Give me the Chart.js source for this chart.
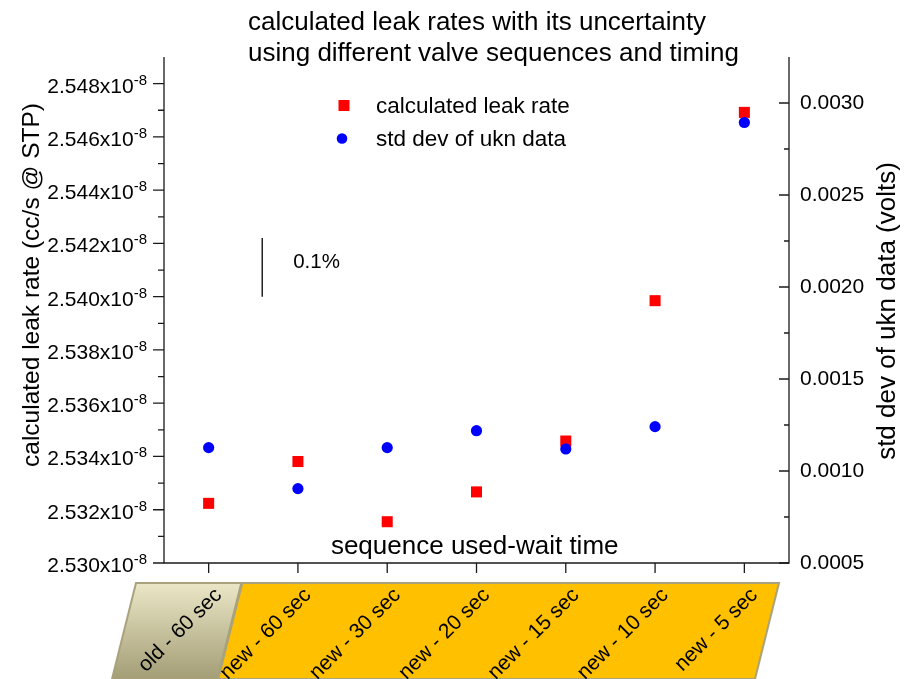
<!DOCTYPE html>
<html>
<head>
<meta charset="utf-8">
<script src="https://cdn.jsdelivr.net/npm/chart.js@4"></script>
<style>
  body { margin: 0; background: #fff; }
  canvas { display: block; }
</style>
</head>
<body>
<canvas id="myChart" width="906" height="679"></canvas>
<script>
// values
const categories = ["old - 60 sec", "new - 60 sec", "new - 30 sec", "new - 20 sec", "new - 15 sec", "new - 10 sec", "new - 5 sec"];
// calculated leak rate, in units of 1e-8 cc/s
const leakRate = [2.53224, 2.53381, 2.53155, 2.53267, 2.53458, 2.53985, 2.54692];
// std dev of ukn data, volts
const stdDev = [0.001127, 0.000904, 0.001127, 0.001219, 0.00112, 0.001241, 0.002894];
const leftTicks = [2.530, 2.532, 2.534, 2.536, 2.538, 2.540, 2.542, 2.544, 2.546, 2.548];
const rightTicks = [0.0005, 0.0010, 0.0015, 0.0020, 0.0025, 0.0030];
// the "0.1%" scale bar
const barX = 0.6;
const barY = [2.5400, 2.5422];

const FONT = "'Liberation Sans', Arial, sans-serif";
const ctx = document.getElementById("myChart");

const decor = {
  id: "decor",
  afterDraw(chart) {
    const c = chart.ctx;
    const a = chart.chartArea;
    const x = chart.scales.x, yl = chart.scales.yLeft, yr = chart.scales.yRight;
    c.save();

    // axis frame (no top line)
    c.strokeStyle = "#1a1a1a";
    c.lineWidth = 1.3;
    c.beginPath();
    c.moveTo(a.left, a.top);
    c.lineTo(a.left, a.bottom);
    c.lineTo(a.right, a.bottom);
    c.lineTo(a.right, a.top);
    c.stroke();

    // left ticks, outward
    c.beginPath();
    for (let i = 0; i < leftTicks.length; i++) {
      let py = yl.getPixelForValue(leftTicks[i]);
      c.moveTo(a.left, py); c.lineTo(a.left - 11, py);
      if (i < leftTicks.length - 1) {
        let my = yl.getPixelForValue((leftTicks[i] + leftTicks[i + 1]) / 2);
        c.moveTo(a.left, my); c.lineTo(a.left - 6, my);
      }
    }
    // right ticks, inward
    for (let i = 0; i < rightTicks.length; i++) {
      let py = yr.getPixelForValue(rightTicks[i]);
      c.moveTo(a.right, py); c.lineTo(a.right - 10, py);
      let my = yr.getPixelForValue(rightTicks[i] + 0.00025);
      if (my > a.top) { c.moveTo(a.right, my); c.lineTo(a.right - 5, my); }
    }
    // bottom ticks
    for (let i = 0; i < categories.length; i++) {
      let px = x.getPixelForValue(i);
      c.moveTo(px, a.bottom); c.lineTo(px, a.bottom + 10);
    }
    c.stroke();

    // left tick labels with superscript
    c.fillStyle = "#000";
    c.textBaseline = "alphabetic";
    for (const t of leftTicks) {
      let py = yl.getPixelForValue(t);
      c.font = "15px " + FONT;
      c.textAlign = "right";
      c.fillText("-8", a.left - 17, py + 1);
      let sw = c.measureText("-8").width;
      c.font = "21px " + FONT;
      c.fillText(t.toFixed(3) + "x10", a.left - 17 - sw, py + 9);
    }
    // right tick labels
    c.font = "21px " + FONT;
    c.textAlign = "left";
    c.textBaseline = "middle";
    for (const t of rightTicks) {
      c.fillText(t.toFixed(4), a.right + 11, yr.getPixelForValue(t));
    }

    // axis titles
    c.save();
    c.translate(32, 285);
    c.rotate(-Math.PI / 2);
    c.textAlign = "center";
    c.font = "24.5px " + FONT;
    c.fillText("calculated leak rate (cc/s @ STP)", 0, 0);
    c.restore();
    c.save();
    c.translate(888, 311);
    c.rotate(-Math.PI / 2);
    c.textAlign = "center";
    c.font = "26px " + FONT;
    c.fillText("std dev of ukn data (volts)", 0, 0);
    c.restore();

    // title
    c.textAlign = "left";
    c.textBaseline = "alphabetic";
    c.font = "26px " + FONT;
    c.fillText("calculated leak rates with its uncertainty", 248, 30);
    c.fillText("using different valve sequences and timing", 248, 61);

    // legend
    c.fillStyle = "#ff0000";
    c.fillRect(338.5, 100, 11, 11);
    c.fillStyle = "#0000ff";
    c.beginPath();
    c.arc(342, 138.5, 5.3, 0, Math.PI * 2);
    c.fill();
    c.fillStyle = "#000";
    c.font = "22.5px " + FONT;
    c.fillText("calculated leak rate", 376, 113);
    c.fillText("std dev of ukn data", 376, 146);

    // x title inside plot
    c.font = "26px " + FONT;
    c.textAlign = "center";
    c.fillText("sequence used-wait time", x.getPixelForValue(2.98), 554);

    // 0.1% label next to the bar
    c.font = "20.5px " + FONT;
    c.textAlign = "left";
    c.fillText("0.1%", x.getPixelForValue(barX) + 31, 268);

    // category boxes below the axis
    const top = a.bottom + 20, bot = chart.height, slant = 24;
    const l0 = x.getPixelForValue(-0.5) - 28;
    const m0 = x.getPixelForValue(0.5) - 12;
    const r0 = x.getPixelForValue(6.5) - 10;
    c.strokeStyle = "#a9a27c";
    c.lineWidth = 2;
    const grad = c.createLinearGradient(0, top, 0, bot);
    grad.addColorStop(0, "#ebe6c6");
    grad.addColorStop(1, "#a39e76");
    c.fillStyle = grad;
    c.beginPath();
    c.moveTo(l0, top); c.lineTo(m0, top); c.lineTo(m0 - slant, bot); c.lineTo(l0 - slant, bot); c.closePath();
    c.fill(); c.stroke();
    c.fillStyle = "#ffc000";
    c.beginPath();
    c.moveTo(m0 + 1, top); c.lineTo(r0, top); c.lineTo(r0 - slant, bot); c.lineTo(m0 + 1 - slant, bot); c.closePath();
    c.fill(); c.stroke();

    // rotated category labels
    c.fillStyle = "#000";
    c.font = "21px " + FONT;
    c.textAlign = "right";
    c.textBaseline = "middle";
    for (let i = 0; i < categories.length; i++) {
      c.save();
      c.translate(x.getPixelForValue(i) + 10, top + 9);
      c.rotate(-Math.PI / 4);
      c.fillText(categories[i], 0, 0);
      c.restore();
    }
    c.restore();
  }
};

new Chart(ctx, {
  type: "scatter",
  data: {
    datasets: [
      {
        label: "calculated leak rate",
        data: leakRate.map((v, i) => ({ x: i, y: v })),
        yAxisID: "yLeft",
        pointStyle: "rect",
        pointRadius: 7.8,
        pointHoverRadius: 7.8,
        backgroundColor: "#ff0000",
        borderWidth: 0,
        order: 2,
      },
      {
        label: "std dev of ukn data",
        data: stdDev.map((v, i) => ({ x: i, y: v })),
        yAxisID: "yRight",
        pointStyle: "circle",
        pointRadius: 5.6,
        pointHoverRadius: 5.6,
        backgroundColor: "#0000ff",
        borderWidth: 0,
        order: 1,
      },
      {
        label: "0.1%",
        type: "line",
        data: barY.map((v) => ({ x: barX, y: v })),
        yAxisID: "yLeft",
        borderColor: "#000",
        borderWidth: 1.3,
        pointRadius: 0,
        order: 3,
      },
    ],
  },
  options: {
    responsive: false,
    animation: false,
    devicePixelRatio: 1,
    layout: { padding: { left: 164, right: 117, top: 57, bottom: 116 } },
    plugins: { legend: { display: false }, tooltip: { enabled: false } },
    scales: {
      x: { type: "linear", min: -0.5, max: 6.5, display: false },
      yLeft: { type: "linear", position: "left", min: 2.530, max: 2.549, display: false },
      yRight: { type: "linear", position: "right", min: 0.0005, max: 0.00325, display: false },
    },
  },
  plugins: [decor],
});
</script>
</body>
</html>
